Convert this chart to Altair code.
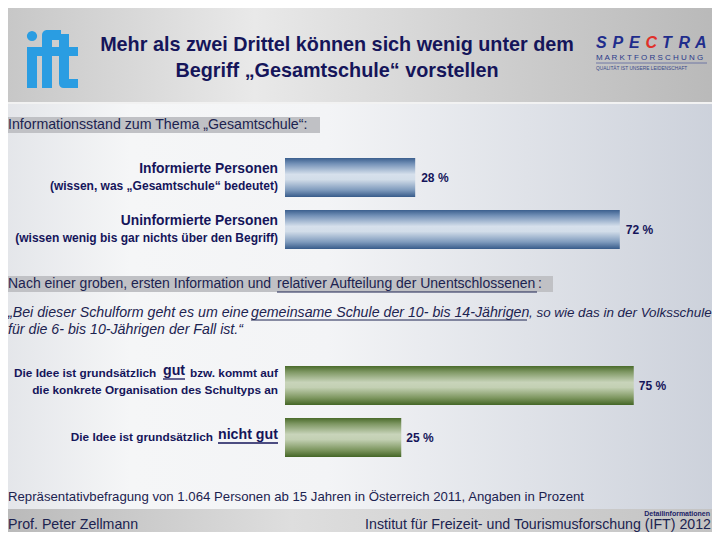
import altair as alt
import pandas as pd

W, H = 704, 524
OFF = 8  # page margin: chart coords = picture coords - 8

NAVY = "#15155a"
TEXT = "#1c2350"
ARIAL = "Liberation Sans, Arial, sans-serif"

# ---------------- data ----------------
info_keys = ["informiert", "uninformiert"]
info_values = [28, 72]
info_line1 = ["Informierte Personen", "Uninformierte Personen"]
info_line2 = ["(wissen, was „Gesamtschule“ bedeutet)",
              "(wissen wenig bis gar nichts über den Begriff)"]

idea_keys = ["gut", "nicht gut"]
idea_values = [75, 25]

y_domain = [info_keys[0], info_keys[1], "leer1", "leer2", idea_keys[0], idea_keys[1]]

title_lines = ["Mehr als zwei Drittel können sich wenig unter dem",
               "Begriff „Gesamtschule“ vorstellen"]
section1 = "Informationsstand zum Thema „Gesamtschule“:"
section2_a = "Nach einer groben, ersten Information und"
section2_b = "relativer Aufteilung der Unentschlossenen"
quote1_a = "„Bei dieser Schulform geht es um eine"
quote1_b = "gemeinsame Schule der 10- bis 14-Jährigen"
quote1_c = ", so wie das in der Volksschule"
quote2 = "für die 6- bis 10-Jährigen der Fall ist.“"
footnote = "Repräsentativbefragung von 1.064 Personen ab 15 Jahren in Österreich 2011, Angaben in Prozent"
footer_left = "Prof. Peter Zellmann"
footer_right = "Institut für Freizeit- und Tourismusforschung (IFT) 2012"
footer_small = "Detailinformationen"
spectra_letters = ["S", "P", "E", "C", "T", "R", "A"]

info_df = pd.DataFrame({"key": info_keys, "value": info_values,
                        "l1": info_line1, "l2": info_line2})
idea_df = pd.DataFrame({"key": idea_keys, "value": idea_values})
one = pd.DataFrame({"k": [0]})

# ---------------- helpers ----------------
def grad_h(stops):
    return alt.LinearGradient(gradient="linear", x1=0, x2=1, y1=0, y2=0,
                              stops=[alt.GradientStop(offset=o, color=c) for o, c in stops])

def grad_v(stops):
    return alt.LinearGradient(gradient="linear", x1=0, x2=0, y1=0, y2=1,
                              stops=[alt.GradientStop(offset=o, color=c) for o, c in stops])

def rect(x0, y0, x1, y1, fill, **kw):
    return alt.Chart(one).mark_rect(fill=fill, **kw).encode(
        x=alt.value(x0 - OFF), x2=alt.value(x1 - OFF),
        y=alt.value(y0 - OFF), y2=alt.value(y1 - OFF))

def rule(x0, x1, y, color, w=1):
    return alt.Chart(one).mark_rule(color=color, strokeWidth=w).encode(
        x=alt.value(x0 - OFF), x2=alt.value(x1 - OFF), y=alt.value(y - OFF))

def txt(t, x, y, size, color=TEXT, weight="normal", align="left", font=ARIAL, style="normal"):
    return alt.Chart(one).mark_text(text=t, align=align, baseline="middle", fontSize=size,
                                    fontWeight=weight, fontStyle=style, font=font,
                                    color=color).encode(x=alt.value(x - OFF), y=alt.value(y - OFF))

# ---------------- background ----------------
bg = [
    rect(0, 103, 728, 510, grad_h([(0, "#e3e5e9"), (0.18, "#f5f6f7"), (0.45, "#f3f4f6"), (1, "#cbd0da")])),
    rect(0, 0, 728, 102, grad_h([(0, "#c6c6c6"), (0.35, "#e9e9e9"), (0.7, "#cdcdcd"), (1, "#b8b8b8")])),
    rect(0, 102, 728, 104, "#f2f2f2"),
    rect(0, 509, 728, 548, grad_h([(0, "#b9b9b9"), (0.4, "#dedede"), (0.7, "#d0d0d0"), (1, "#c2c2c2")])),
    rect(5, 117, 320, 133, "#c0c1c5"),
    rect(5, 276, 553, 292, "#c0c1c5"),
]

# ---------------- logos & title ----------------
LOGO_BLUE = "#2a9de2"
logos = [
    # "ift"
    alt.Chart(one).mark_circle(size=105, color=LOGO_BLUE, opacity=1).encode(
        x=alt.value(32 - OFF), y=alt.value(36 - OFF)),
    rect(27, 47, 37, 88, LOGO_BLUE),
    rect(42, 30, 61, 40, LOGO_BLUE, cornerRadiusTopLeft=9),
    rect(42, 38, 52, 88, LOGO_BLUE),
    rect(37, 47, 78, 56, LOGO_BLUE),
    rect(59, 34, 69, 82, LOGO_BLUE),
    rect(59, 79, 78, 88, LOGO_BLUE, cornerRadiusBottomLeft=9),
]
for i, letter in enumerate(spectra_letters):
    logos.append(txt(letter, 596 + i * 16.5, 43, 16,
                     "#e0302a" if letter == "C" else "#1f2d8c", "bold", style="italic"))
logos += [
    txt("M A R K T F O R S C H U N G", 596, 58, 8, "#2a3a8a"),
    rule(596, 707, 63, "#5a66a0", 0.8),
    txt("QUALITÄT IST UNSERE LEIDENSCHAFT", 596, 69, 4.8, "#3a4a8a"),
    txt(title_lines[0], 337, 45, 19.8, NAVY, "bold", "center"),
    txt(title_lines[1], 337, 71, 19.8, NAVY, "bold", "center"),
]

# ---------------- section texts ----------------
BODY = 14.2
texts = [
    txt(section1, 8, 125, BODY),
    txt(section2_a, 8, 284, 14.0),
    txt(section2_b, 277, 284, 14.0),
    txt(":", 538, 284, 14.0),
    rule(277, 537, 292, TEXT),
    txt(quote1_a, 8, 313, BODY, style="italic"),
    txt(quote1_b, 251, 313, BODY, style="italic"),
    rule(251, 527, 320, TEXT),
    txt(quote1_c, 529, 313, 13.4, style="italic"),
    txt(quote2, 8, 330, BODY, style="italic"),
    txt(footnote, 8, 497, 13.2),
    txt(footer_left, 8, 525, BODY),
    txt(footer_right, 711, 525, BODY, align="right"),
    txt(footer_small, 710, 514, 7, weight="bold", align="right", color="#1c2366"),
]

# ---------------- bars ----------------
xscale = alt.Scale(domain=[0, 100], range=[277, 742])
yscale = alt.Scale(domain=y_domain, range=[143.5, 455.5], paddingInner=0.25, paddingOuter=0.125)
X = alt.X("value:Q", scale=xscale, axis=None)
Y = alt.Y("key:N", scale=yscale, axis=None)

BLUE = grad_v([(0, "#3b5f8e"), (0.15, "#7592b8"), (0.42, "#d6e0ec"), (0.55, "#d2dde9"),
               (0.82, "#7f9bbd"), (1, "#375b8a")])
GREEN = grad_v([(0, "#4a6b2b"), (0.15, "#7e9763"), (0.42, "#c8d4ba"), (0.55, "#c3d0b3"),
                (0.82, "#7d965f"), (1, "#446626")])

bars_info = alt.Chart(info_df).mark_bar(fill=BLUE).encode(x=X, y=Y)
bars_idea = alt.Chart(idea_df).mark_bar(fill=GREEN).encode(x=X, y=Y)

val_info = alt.Chart(info_df).transform_calculate(lbl="datum.value + ' %'").mark_text(
    align="left", baseline="middle", dx=6, fontSize=12, fontWeight="bold", font=ARIAL, color=NAVY
).encode(x=X, y=Y, text="lbl:N")
val_idea = alt.Chart(idea_df).transform_calculate(lbl="datum.value + ' %'").mark_text(
    align="left", baseline="middle", dx=5, fontSize=12, fontWeight="bold", font=ARIAL, color=NAVY
).encode(x=X, y=Y, text="lbl:N")

lab1 = alt.Chart(info_df).mark_text(align="right", baseline="middle", dy=-9, fontSize=13.8,
                                    fontWeight="bold", font=ARIAL, color=NAVY).encode(
    x=alt.value(270), y=Y, text="l1:N")
lab2 = alt.Chart(info_df).mark_text(align="right", baseline="middle", dy=8, fontSize=12,
                                    fontWeight="bold", font=ARIAL, color=NAVY).encode(
    x=alt.value(270), y=Y, text="l2:N")

LS = 11.8
idea_labels = [
    txt("Die Idee ist grundsätzlich", 14, 373, LS, NAVY, "bold"),
    txt("gut", 163, 371, 14.2, NAVY, "bold"),
    rule(163, 185, 379, NAVY, 1.3),
    txt("bzw. kommt auf", 278, 373, LS, NAVY, "bold", "right"),
    txt("die konkrete Organisation des Schultyps an", 278, 390, LS, NAVY, "bold", "right"),
    txt("Die Idee ist grundsätzlich", 213, 437, LS, NAVY, "bold", "right"),
    txt("nicht gut", 218, 435, 14.2, NAVY, "bold"),
    rule(218, 278, 443, NAVY, 1.3),
]

chart = alt.layer(
    *bg, *logos, *texts, bars_info, bars_idea, val_info, val_idea, lab1, lab2, *idea_labels
).properties(width=W, height=H, padding=0, autosize=alt.AutoSizeParams(type="none")
).configure_view(stroke=None).configure(background="white")

chart.save("out.html", embed_options={"renderer": "svg", "actions": False})
